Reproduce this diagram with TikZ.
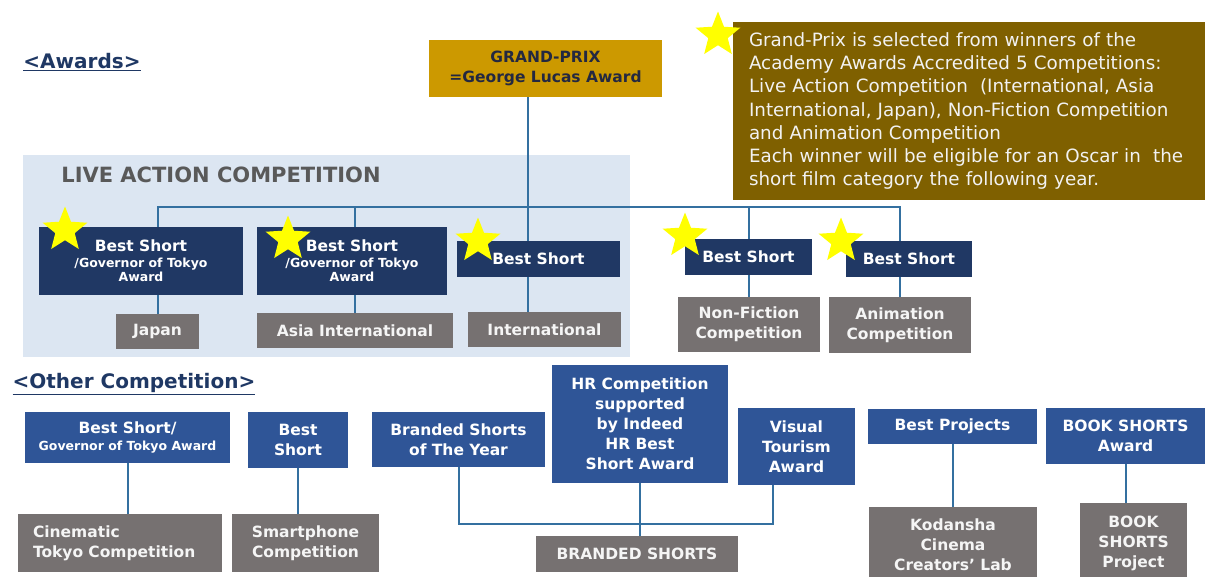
\documentclass[tikz,border=0pt]{standalone}
\usepackage{fontspec}
\setmainfont{DejaVu Sans}
\usetikzlibrary{shapes.geometric}

\definecolor{awardnavy}{RGB}{32,56,100}
\definecolor{otherblue}{RGB}{47,85,151}
\definecolor{catgray}{RGB}{118,113,113}
\definecolor{gpgold}{RGB}{204,153,0}
\definecolor{gptext}{RGB}{35,40,65}
\definecolor{notebrown}{RGB}{127,96,0}
\definecolor{panelblue}{RGB}{220,230,242}
\definecolor{paneltext}{RGB}{89,89,89}
\definecolor{linkblue}{RGB}{52,112,160}
\definecolor{headnavy}{RGB}{31,56,100}
\definecolor{staryellow}{RGB}{255,255,0}

\pgfdeclarelayer{background}
\pgfsetlayers{background,main}

\newcommand{\smalltext}{\fontsize{12.5}{14.5}\selectfont}
\newcommand{\bigline}{\fontsize{15.5}{15.5}\selectfont}

\tikzset{
  award/.style={
    % The shape:
    rectangle,
    inner sep=0pt,
    % The filling:
    fill=awardnavy,
    % The text:
    text=white, align=center,
    font=\bfseries\fontsize{15.5}{20}\selectfont},
  other/.style={award, fill=otherblue},
  category/.style={award, fill=catgray, text=white!96!black},
  heading/.style={inner sep=0pt, text=headnavy,
    font=\bfseries\fontsize{20}{24}\selectfont},
  winner/.style={
    % The shape:
    star, star points=5, star point ratio=2.3,
    minimum size=47pt, inner sep=0pt,
    % The filling:
    fill=staryellow},
  link/.style={draw=linkblue, line width=2pt}
}

\begin{document}
\begin{tikzpicture}[x=1pt,y=-1pt]
  \useasboundingbox (0,0) rectangle (1205,576);
  \begin{pgfonlayer}{background}
    \fill[white] (0,0) rectangle (1205,576);
    \fill[panelblue] (23,155) rectangle (630,357);
  \end{pgfonlayer}

  % awards
  \node[heading] (awardshead) at (82,62) {\underline{<Awards>}};
  \node[award, fill=gpgold, text=gptext, minimum width=233, minimum height=57]
    (gp) at (545.5,68.5) {GRAND-PRIX\\=George Lucas Award};
  \node[rectangle, fill=notebrown, text=white!95!black, inner sep=0pt,
        minimum width=472, minimum height=178, text width=440, align=left,
        font=\fontsize{18.3}{23.2}\selectfont]
    (note) at (969,111) {Grand-Prix is selected from winners of the\\
      Academy Awards Accredited 5 Competitions:\\
      Live Action Competition\ \ (International, Asia\\
      International, Japan), Non-Fiction Competition\\
      and Animation Competition\\
      Each winner will be eligible for an Oscar in\ \ the\\
      short film category the following year.};
  \node[inner sep=0pt, text=paneltext, font=\bfseries\fontsize{21}{24}\selectfont]
    (livehead) at (221,175) {LIVE ACTION COMPETITION};

  \node[award, minimum width=204, minimum height=68, font=\bfseries\smalltext]
    (jpaward) at (141,261) {{\bigline Best Short}\\[1pt]/Governor of Tokyo\\Award};
  \node[award, minimum width=190, minimum height=68, font=\bfseries\smalltext]
    (asaward) at (352,261) {{\bigline Best Short}\\[1pt]/Governor of Tokyo\\Award};
  \node[award, minimum width=163, minimum height=36] (inaward) at (538.5,259) {Best Short};
  \node[award, minimum width=127, minimum height=36] (nfaward) at (748.5,257) {Best Short};
  \node[award, minimum width=126, minimum height=36] (anaward) at (909,259) {Best Short};

  \node[category, minimum width=83,  minimum height=35] (jpcat) at (157.5,331.5) {Japan};
  \node[category, minimum width=196, minimum height=35] (ascat) at (355,330.5) {Asia International};
  \node[category, minimum width=153, minimum height=35] (incat) at (544.5,329.5) {International};
  \node[category, minimum width=142, minimum height=55] (nfcat) at (749,324.5) {Non-Fiction\\Competition};
  \node[category, minimum width=142, minimum height=56] (ancat) at (900,325) {Animation\\Competition};

  \coordinate (bus) at (528,207);

  \node[winner] (jpstar) at (65,230) {};
  \node[winner] (asstar) at (288,239) {};
  \node[winner] (instar) at (478,241) {};
  \node[winner] (nfstar) at (685,236) {};
  \node[winner] (anstar) at (841,241) {};
  \node[winner] (notestar) at (718,35) {};

  % other competition
  \node[heading] (othershead) at (134,384) {\underline{<Other Competition>}};
  \node[other, minimum width=205, minimum height=51, font=\bfseries\smalltext]
    (otaward) at (127.5,437.5) {{\bigline Best Short/}\\[2pt]Governor of Tokyo Award};
  \node[other, minimum width=100, minimum height=56] (bsaward) at (298,440) {Best\\Short};
  \node[other, minimum width=173, minimum height=55] (byaward) at (458.5,439.5) {Branded Shorts\\of The Year};
  \node[other, minimum width=176, minimum height=118] (hraward) at (640,424)
    {HR Competition\\supported\\by Indeed\\HR Best\\Short Award};
  \node[other, minimum width=117, minimum height=77] (vtaward) at (796.5,446.5) {Visual\\Tourism\\Award};
  \node[other, minimum width=169, minimum height=35] (bpaward) at (952.5,426.5) {Best Projects};
  \node[other, minimum width=159, minimum height=56] (bkaward) at (1125.5,436) {BOOK SHORTS\\Award};

  \node[category, minimum width=204, minimum height=58, text width=174, align=left]
    (cincat) at (120,543) {Cinematic\\Tokyo Competition};
  \node[category, minimum width=147, minimum height=58] (smcat) at (305.5,543) {Smartphone\\Competition};
  \node[category, minimum width=202, minimum height=36] (bscat) at (637,554) {BRANDED SHORTS};
  \node[category, minimum width=168, minimum height=76] (kccat) at (953,545) {Kodansha\\Cinema\\Creators’ Lab};
  \node[category, minimum width=107, minimum height=80] (bkcat) at (1133.5,543) {BOOK\\SHORTS\\Project};

  \coordinate (brandbus) at (773,524);

  \begin{pgfonlayer}{background}
    \draw[link] (jpcat.north) |- (ancat.north |- bus) -- (ancat.north);
    \draw[link] (ascat.north) -- (ascat.north |- bus);
    \draw[link] (nfcat.north) -- (nfcat.north |- bus);
    \draw[link] (gp.south -| bus) -- (incat.north -| bus);
    \draw[link] (otaward.south) -- (otaward.south |- cincat.north);
    \draw[link] (bsaward.south) -- (bsaward.south |- smcat.north);
    \draw[link] (byaward.south) |- (brandbus) -- (brandbus |- vtaward.south);
    \draw[link] (hraward.south) -- (hraward.south |- bscat.north);
    \draw[link] (bpaward.south) -- (bpaward.south |- kccat.north);
    \draw[link] (bkaward.south) -- (bkaward.south |- bkcat.north);
  \end{pgfonlayer}
\end{tikzpicture}
\end{document}
